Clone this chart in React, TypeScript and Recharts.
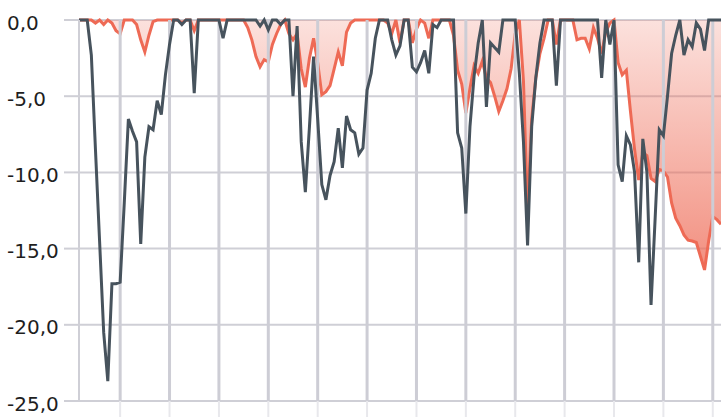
import { ComposedChart, Line, Area, XAxis, YAxis, CartesianGrid, ReferenceLine } from "recharts";

// drawdown in %, one value per period (first series, dark)
const portfolio = [
  0, 0, 0, -2.3, -8.5, -14.5, -20.5, -23.7, -17.3, -17.3,
  -17.2, -12, -6.5, -7.3, -8, -14.7, -9, -7, -7.2, -5.3,
  -6.2, -3.6, -1.6, 0, 0, -0.3, 0, 0, -4.8, 0,
  0, 0, 0, 0, 0, -1.2, 0, 0, 0, 0,
  0, 0, 0, 0, -0.4, 0, -0.65, 0, 0, -0.3,
  0, 0, -5, -0.4, -8, -11.3, -7, -2.4, -6.5, -10.8,
  -11.8, -10.2, -9.3, -7.1, -9.7, -6.3, -7.2, -7.4, -8.8, -8.4,
  -4.6, -3.5, -1.2, 0, 0, 0, -1.3, -2.3, -1.7, 0,
  0, -3.1, -3.4, -2.8, -2, -3.5, -0.3, -0.5, 0, 0,
  0, 0, -7.4, -8.4, -12.7, -7, -3.7, -1.5, 0, -5.7,
  -1.5, -1.8, -2.1, 0, 0, 0, 0, -3.5, -8, -14.8,
  -7, -3.8, -1.5, 0, 0, 0, -4.3, 0, 0, 0,
  0, 0, 0, 0, 0, 0, 0, -3.8, 0, -1.6,
  0, -9.5, -10.6, -7.6, -8.2, -10, -15.9, -7.8, -10, -18.7,
  -13, -7.2, -7.6, -5, -2.2, -1, 0, -2.3, -1.3, -1.75,
  -0.2, -0.6, -2, 0, 0, 0, 0,
];

// drawdown in %, second series (red, filled)
const benchmark = [
  0, 0, 0, 0, -0.2, 0, -0.3, 0, -0.2, -0.7,
  -0.9, 0, 0, 0, -0.3, -1.3, -2.1, -1, -0.1, 0,
  0, 0, 0, 0, 0, -0.2, 0, 0, -0.7, 0,
  0, 0, 0, 0, 0, 0, 0, 0, 0, 0,
  0, -0.5, -1.3, -2.4, -3.07, -2.6, -2.74, -1.6, -0.9, -0.3,
  0, -0.9, -1.3, -0.9, -3.2, -4.4, -2.5, -1.2, -2.8, -4.9,
  -4.7, -4.3, -3.2, -2.1, -3, -0.8, -0.2, 0, 0, 0,
  0, 0, 0, 0, 0, -0.2, -0.9, 0, -1.5, 0,
  0, -1.5, -0.6, 0, -0.2, -1.2, 0, 0, 0, 0,
  0, -1, -3.3, -4.2, -6.1, -4.5, -3, -3.5, -2.7, -3.8,
  -4.1, -5, -6, -5.3, -4.5, -3.2, -0.9, 0, -4, -12.7,
  -6.5, -3.8, -2.2, -1.2, 0, 0, -1.6, 0, 0, 0,
  0, -1.3, -1.2, -1.2, -1.9, -0.5, -1.2, -2.2, -0.8, -0.2,
  0, -2.8, -3.6, -3.3, -6, -8.5, -10.5, -8.7, -8.9, -10.4,
  -10.6, -9.8, -9.9, -10.3, -12, -13, -13.5, -14.1, -14.45, -14.5,
  -14.6, -15.5, -16.4, -14.5, -12.9, -13.1, -13.4,
];

const xTicks = [10, 22, 34, 46, 58, 70, 82, 94, 106, 118, 130, 142, 154];
const yTicks = [0, -5, -10, -15, -20, -25];

const rows = portfolio.map((v, i) => ({ i, portfolio: v, benchmark: benchmark[i] }));

const GRID = "#cfcfd6";
const VGRID = "#cdcdd5";

const fmt = (v: number) => v.toFixed(1).replace(".", ",");

function YTick(props: any) {
  const { y, payload } = props;
  return (
    <text x={7} y={y + 9.5} fill="#1e1e1e" fontSize={20} fontFamily="DejaVu Sans" textAnchor="start">
      {fmt(payload.value)}
    </text>
  );
}

export default function App() {
  return (
    <div style={{ position: "absolute", left: 0, top: 0, width: 721, height: 417, overflow: "hidden", background: "#fff" }}>
      <ComposedChart width={721} height={460} data={rows} margin={{ top: 20, right: 0, bottom: 0, left: 0 }}>
        <defs>
          <linearGradient id="redFade" x1="0" y1="0" x2="0" y2="1">
            <stop offset="0%" stopColor="#ee6a55" stopOpacity={0.2} />
            <stop offset="100%" stopColor="#ee6a55" stopOpacity={0.75} />
          </linearGradient>
        </defs>
        <CartesianGrid stroke={GRID} strokeWidth={2} vertical={false} />
        {/* vertical grid drawn as reference lines at the x ticks */}
        <ReferenceLine x={xTicks[0]} stroke={VGRID} strokeWidth={3} />
        <ReferenceLine x={xTicks[1]} stroke={VGRID} strokeWidth={3} />
        <ReferenceLine x={xTicks[2]} stroke={VGRID} strokeWidth={3} />
        <ReferenceLine x={xTicks[3]} stroke={VGRID} strokeWidth={3} />
        <ReferenceLine x={xTicks[4]} stroke={VGRID} strokeWidth={3} />
        <ReferenceLine x={xTicks[5]} stroke={VGRID} strokeWidth={3} />
        <ReferenceLine x={xTicks[6]} stroke={VGRID} strokeWidth={3} />
        <ReferenceLine x={xTicks[7]} stroke={VGRID} strokeWidth={3} />
        <ReferenceLine x={xTicks[8]} stroke={VGRID} strokeWidth={3} />
        <ReferenceLine x={xTicks[9]} stroke={VGRID} strokeWidth={3} />
        <ReferenceLine x={xTicks[10]} stroke={VGRID} strokeWidth={3} />
        <ReferenceLine x={xTicks[11]} stroke={VGRID} strokeWidth={3} />
        <ReferenceLine x={xTicks[12]} stroke={VGRID} strokeWidth={3} />
        <XAxis
          dataKey="i"
          type="number"
          domain={[0, 156]}
          ticks={xTicks}
          interval={0}
          height={59}
          tickSize={16}
          tickLine={{ stroke: "#e8e8ec", strokeWidth: 2 }}
          axisLine={false}
          tickFormatter={() => ""}
        />
        <YAxis
          type="number"
          domain={[-25, 0]}
          ticks={yTicks}
          interval={0}
          width={79}
          tickSize={15}
          tickLine={{ stroke: GRID, strokeWidth: 2 }}
          axisLine={{ stroke: GRID, strokeWidth: 2 }}
          tick={<YTick />}
        />
        <Line type="linear" dataKey="portfolio" stroke="#47535d" strokeWidth={3} dot={false} activeDot={false} isAnimationActive={false} />
        <Area type="linear" dataKey="benchmark" stroke="#ee6a55" strokeWidth={3} fill="url(#redFade)" fillOpacity={1} dot={false} activeDot={false} isAnimationActive={false} />
      </ComposedChart>
    </div>
  );
}
